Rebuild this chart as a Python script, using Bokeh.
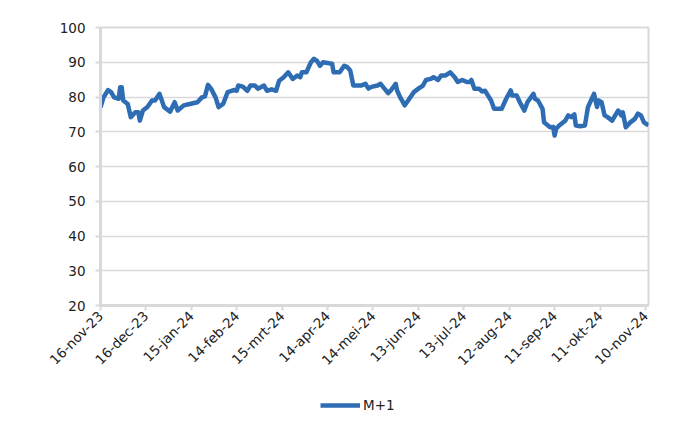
import pandas as pd
from bokeh.plotting import figure
from bokeh.layouts import column
from bokeh.models import Range1d, FixedTicker, Legend, LegendItem, ColumnDataSource
from bokeh.embed import file_html
from bokeh.resources import INLINE

# ---- data ----
dates = [
    "2023-11-16", "2023-11-18", "2023-11-21", "2023-11-23", "2023-11-25", "2023-11-28", "2023-11-29", "2023-11-30",
    "2023-12-01", "2023-12-04", "2023-12-06", "2023-12-09", "2023-12-11", "2023-12-12", "2023-12-14", "2023-12-17",
    "2023-12-20", "2023-12-22", "2023-12-25", "2023-12-28", "2024-01-01", "2024-01-04", "2024-01-06", "2024-01-10",
    "2024-01-14", "2024-01-19", "2024-01-22", "2024-01-24", "2024-01-26", "2024-01-28", "2024-01-31", "2024-02-02",
    "2024-02-05", "2024-02-08", "2024-02-12", "2024-02-14", "2024-02-15", "2024-02-18", "2024-02-21", "2024-02-23",
    "2024-02-26", "2024-02-28", "2024-03-03", "2024-03-05", "2024-03-08", "2024-03-11", "2024-03-13", "2024-03-16",
    "2024-03-19", "2024-03-22", "2024-03-25", "2024-03-27", "2024-03-28", "2024-03-31", "2024-04-03", "2024-04-05",
    "2024-04-07", "2024-04-09", "2024-04-11", "2024-04-15", "2024-04-17", "2024-04-18", "2024-04-22", "2024-04-25",
    "2024-04-27", "2024-04-29", "2024-05-01", "2024-05-06", "2024-05-09", "2024-05-11", "2024-05-13", "2024-05-17",
    "2024-05-19", "2024-05-24", "2024-05-26", "2024-05-29", "2024-05-30", "2024-06-01", "2024-06-04", "2024-06-07",
    "2024-06-10", "2024-06-13", "2024-06-16", "2024-06-18", "2024-06-21", "2024-06-23", "2024-06-26", "2024-06-28",
    "2024-07-01", "2024-07-04", "2024-07-07", "2024-07-09", "2024-07-12", "2024-07-15", "2024-07-17", "2024-07-18",
    "2024-07-20", "2024-07-23", "2024-07-25", "2024-07-27", "2024-07-29", "2024-07-31", "2024-08-02", "2024-08-07",
    "2024-08-10", "2024-08-13", "2024-08-14", "2024-08-17", "2024-08-19", "2024-08-22", "2024-08-24", "2024-08-28",
    "2024-08-29", "2024-08-31", "2024-09-03", "2024-09-04", "2024-09-08", "2024-09-10", "2024-09-11", "2024-09-12",
    "2024-09-14", "2024-09-18", "2024-09-20", "2024-09-22", "2024-09-24", "2024-09-25", "2024-09-28", "2024-10-01",
    "2024-10-03", "2024-10-05", "2024-10-07", "2024-10-09", "2024-10-10", "2024-10-12", "2024-10-14", "2024-10-16",
    "2024-10-19", "2024-10-21", "2024-10-23", "2024-10-25", "2024-10-26", "2024-10-28", "2024-10-31", "2024-11-03",
    "2024-11-05", "2024-11-07", "2024-11-09", "2024-11-12",
]
m1_values = [
    77.0, 79.9, 82.0, 81.4, 79.9, 79.5, 82.8, 82.8,
    79.0, 78.0, 74.2, 75.6, 75.6, 73.2, 76.1, 77.1,
    79.0, 79.0, 80.9, 77.1, 75.8, 78.5, 76.1, 77.6,
    78.0, 78.5, 79.9, 80.2, 83.5, 82.4, 79.9, 77.1,
    78.0, 81.4, 82.0, 81.8, 83.3, 83.0, 81.8, 83.3,
    83.3, 82.4, 83.3, 81.8, 82.2, 81.8, 84.7, 85.7,
    87.1, 85.2, 86.2, 85.7, 87.1, 87.1, 90.0, 91.0,
    90.4, 89.0, 90.0, 89.7, 89.6, 87.1, 87.1, 89.0,
    88.6, 87.6, 83.3, 83.3, 83.8, 82.4, 82.9, 83.3,
    83.8, 81.1, 82.0, 83.8, 81.8, 79.9, 77.6, 79.5,
    81.4, 82.4, 83.3, 84.9, 85.2, 85.7, 84.9, 86.2,
    86.2, 87.1, 85.7, 84.3, 84.9, 84.3, 84.3, 84.9,
    82.4, 82.4, 81.6, 81.8, 80.4, 79.0, 76.6, 76.6,
    79.5, 81.9, 80.4, 80.4, 78.5, 76.1, 78.5, 80.9,
    79.5, 79.0, 76.6, 72.7, 71.3, 71.4, 68.9, 70.9,
    71.8, 73.2, 74.7, 74.2, 75.0, 71.8, 71.6, 71.8,
    77.1, 79.0, 80.9, 77.1, 79.0, 78.5, 74.7, 74.2,
    73.2, 74.7, 76.1, 74.7, 75.6, 71.3, 72.7, 73.7,
    75.2, 74.7, 72.7, 71.8,
]
series_name = "M+1"

tick_dates = ["2023-11-16", "2023-12-16", "2024-01-15", "2024-02-14", "2024-03-15", "2024-04-14",
              "2024-05-14", "2024-06-13", "2024-07-13", "2024-08-12", "2024-09-11", "2024-10-11", "2024-11-10"]
tick_labels = ["16-nov-23", "16-dec-23", "15-jan-24", "14-feb-24", "15-mrt-24", "14-apr-24",
               "14-mei-24", "13-jun-24", "13-jul-24", "12-aug-24", "11-sep-24", "11-okt-24", "10-nov-24"]
y_ticks = [20, 30, 40, 50, 60, 70, 80, 90, 100]
x_start, x_end = "2023-11-16", "2024-11-12"

# ---- build ----
def ms(d):
    return pd.Timestamp(d).value // 10**6

LINE_COLOR = "#2E6DB3"
GRID = "#d9d9d9"
FONT = "DejaVu Sans"

src = ColumnDataSource(dict(x=pd.to_datetime(dates), y=m1_values))

p = figure(width=684, height=393, x_axis_type="datetime", output_backend="svg",
           toolbar_location=None, min_border_left=100, min_border_right=36,
           min_border_top=27, min_border_bottom=88,
           x_range=Range1d(ms(x_start), ms(x_end)), y_range=Range1d(20, 100))

p.line("x", "y", source=src, line_color=LINE_COLOR, line_width=4.5, line_join="round")

p.xaxis.ticker = FixedTicker(ticks=[ms(d) for d in tick_dates])
p.xaxis.major_label_overrides = {ms(d): lab for d, lab in zip(tick_dates, tick_labels)}
p.xaxis.major_label_orientation = 0.785398
p.yaxis.ticker = FixedTicker(ticks=y_ticks)

for ax in (p.xaxis[0], p.yaxis[0]):
    ax.axis_line_color = GRID
    ax.axis_line_width = 3
    ax.major_tick_line_color = GRID
    ax.major_tick_line_width = 2
    ax.major_tick_out = 5
    ax.major_tick_in = 0
    ax.minor_tick_line_color = None
    ax.major_label_text_font = FONT
    ax.major_label_text_font_size = "13.5px"
    ax.major_label_text_color = "#222222"
p.yaxis.major_label_standoff = 10
p.xaxis.major_label_standoff = 3

p.xgrid.grid_line_color = None
p.ygrid.grid_line_color = GRID
p.ygrid.grid_line_width = 1.5
p.outline_line_color = GRID
p.outline_line_width = 2

# ---- legend strip under the chart ----
p2 = figure(width=684, height=27, output_backend="svg", toolbar_location=None,
            x_axis_location=None, y_axis_location=None, min_border=0,
            x_range=Range1d(0, 1), y_range=Range1d(0, 1))
p2.xgrid.grid_line_color = None
p2.ygrid.grid_line_color = None
p2.outline_line_color = None
# sample renderer for the legend key only (its points lie outside the visible range)
legend_line = p2.line(x=[5, 6], y=[5, 6], line_color=LINE_COLOR, line_width=4.5)

legend = Legend(items=[LegendItem(label=series_name, renderers=[legend_line])],
                orientation="horizontal", location=(220, 7),
                label_text_font=FONT, label_text_font_size="13.5px", label_text_color="#222222",
                glyph_width=40, glyph_height=16, border_line_color=None, background_fill_alpha=0,
                margin=0, padding=2, spacing=4, label_standoff=3)
p2.add_layout(legend, "center")

layout = column(p, p2, spacing=0)
open("out.html", "w").write(file_html(layout, INLINE))
